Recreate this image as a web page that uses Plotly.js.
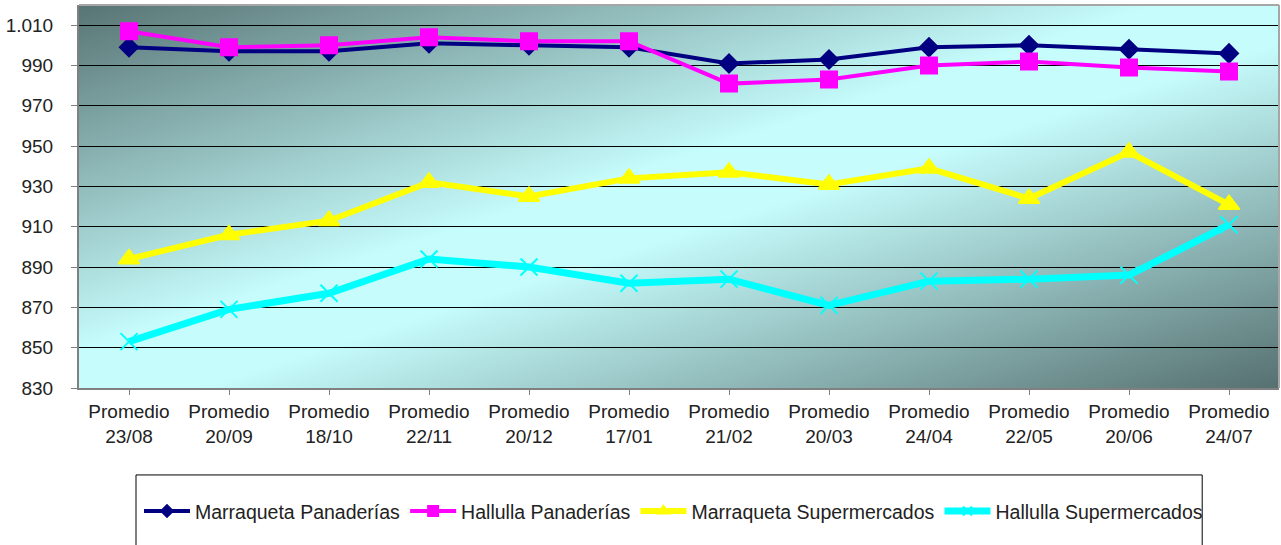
<!DOCTYPE html>
<html><head><meta charset="utf-8">
<script src="https://cdn.plot.ly/plotly-3.0.1.min.js"></script>
<style>html,body{margin:0;padding:0;background:#fff;}#chart{width:1281px;height:545px;}</style>
</head><body><div id="chart"></div>
<script>
const categories = ["Promedio<br>23/08","Promedio<br>20/09","Promedio<br>18/10","Promedio<br>22/11","Promedio<br>20/12","Promedio<br>17/01","Promedio<br>21/02","Promedio<br>20/03","Promedio<br>24/04","Promedio<br>22/05","Promedio<br>20/06","Promedio<br>24/07"];
const marraquetaPanaderias = [999, 997, 997, 1001, 1000, 999, 991, 993, 999, 1000, 998, 996];
const hallullaPanaderias = [1007, 999, 1000, 1004, 1002, 1002, 981, 983, 990, 992, 989, 987];
const marraquetaSupermercados = [894, 906, 913, 932, 925, 934, 937, 931, 939, 924, 947, 921];
const hallullaSupermercados = [853, 869, 877, 894, 890, 882, 884, 871, 883, 884, 886, 911];
const seriesNames = ["Marraqueta Panaderías","Hallulla Panaderías","Marraqueta Supermercados","Hallulla Supermercados"];
const yTicks = [830, 850, 870, 890, 910, 930, 950, 970, 990, 1010];

const x = categories.map((c,i)=>i);
const styles = [
  {color:'#000080', width:4, symbol:'diamond', size:14, lsize:9},
  {color:'#ff00ff', width:4, symbol:'square', size:16, lsize:10},
  {color:'#ffff00', width:6, symbol:'triangle-up', size:18, lsize:10},
  {color:'#00ffff', width:7, symbol:'x-thin-open', size:17, lsize:9}
];
const allSeries = [marraquetaPanaderias, hallullaPanaderias, marraquetaSupermercados, hallullaSupermercados];
const traces = [];
allSeries.forEach((ys, k) => {
  const s = styles[k];
  traces.push({x, y: ys, name: seriesNames[k], mode:'lines+markers', showlegend:false,
    line:{color:s.color, width:s.width},
    marker:{symbol:s.symbol, size:s.size, color:s.color, line:{color:s.color, width:2}}});
});
allSeries.forEach((ys, k) => {
  const s = styles[k];
  traces.push({x:[null], y:[null], name: seriesNames[k], mode:'lines+markers', showlegend:true,
    line:{color:s.color, width:s.width},
    marker:{symbol:s.symbol, size:s.lsize, color:s.color, line:{color:s.color, width:2}}});
});

const grad = '<svg xmlns="http://www.w3.org/2000/svg" width="1200" height="383" preserveAspectRatio="none" viewBox="0 0 1200 383">' +
 '<defs><linearGradient id="g" x1="0" y1="0" x2="1" y2="1">' +
 '<stop offset="0" stop-color="#587474"/><stop offset="0.45" stop-color="#c6fcfc"/><stop offset="0.55" stop-color="#c6fcfc"/><stop offset="1" stop-color="#567070"/>' +
 '</linearGradient></defs><rect width="1200" height="383" fill="url(#g)"/></svg>';
const gradURI = 'data:image/svg+xml;charset=utf-8,' + encodeURIComponent(grad);

const layout = {
  width:1281, height:545,
  margin:{l:79, r:2, t:5, b:157},
  paper_bgcolor:'#ffffff', plot_bgcolor:'rgba(0,0,0,0)',
  separators: ',.',
  font:{family:'"Liberation Sans", Arial, sans-serif', size:18, color:'#222'},
  showlegend:true,
  legend:{orientation:'h', x:0.05, y:-0.322, xanchor:'left', yanchor:'middle',
    bgcolor:'rgba(0,0,0,0)', borderwidth:0, font:{size:19.5, color:'#222'}, itemwidth:46, tracegroupgap:0},
  xaxis:{range:[-0.5, 11.5], tickmode:'array', tickvals:x, ticktext:categories,
    showgrid:false, zeroline:false, showline:true, linecolor:'#808080', linewidth:2,
    ticks:'outside', ticklen:5, tickcolor:'#808080', tickson:'boundaries',
    tickfont:{size:19, color:'#222'}, fixedrange:true},
  yaxis:{range:[830, 1020], tickmode:'array', tickvals:yTicks, tickformat:',d',
    showgrid:true, gridcolor:'#000000', gridwidth:1, zeroline:false,
    showline:true, linecolor:'#808080', linewidth:2, ticks:'outside', ticklen:6, tickcolor:'#808080',
    ticklabelstandoff:14,
    tickfont:{size:19, color:'#222'}, fixedrange:true},
  images:[{source:gradURI, xref:'paper', yref:'paper', x:0, y:1, sizex:1, sizey:1,
    sizing:'stretch', xanchor:'left', yanchor:'top', layer:'below'}],
  shapes:[
    {type:'line', xref:'paper', yref:'paper', x0:0, x1:1, y0:1, y1:1, line:{color:'#a6a6a6', width:2}},
    {type:'line', xref:'paper', yref:'paper', x0:1, x1:1, y0:0, y1:1, line:{color:'#a6a6a6', width:2}},
    {type:'rect', xref:'paper', yref:'paper', x0:0.0475, x1:0.936, y0:-0.227, y1:-0.5, line:{color:'#000', width:1}, fillcolor:'rgba(0,0,0,0)'}
  ]
};
Plotly.newPlot('chart', traces, layout, {displayModeBar:false, staticPlot:true});
</script>
</body></html>
